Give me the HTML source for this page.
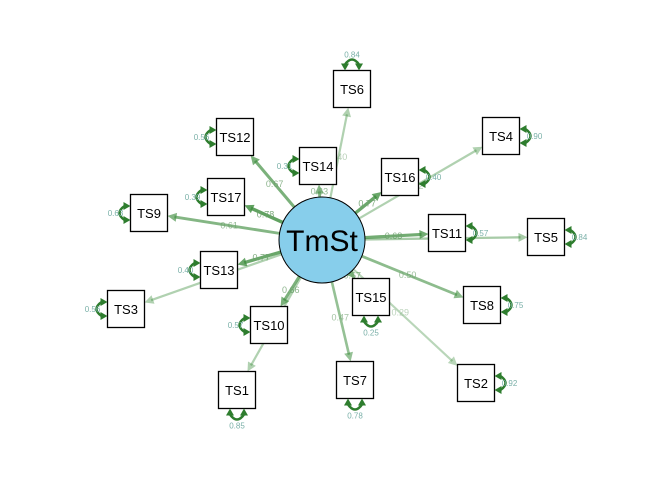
<!DOCTYPE html>
<html><head><meta charset="utf-8"><style>
html,body{margin:0;padding:0;background:#fff;}
svg{display:block;font-family:"Liberation Sans",Arial,sans-serif;}
</style></head><body>
<svg id="s" width="672" height="480" viewBox="0 0 672 480" xmlns="http://www.w3.org/2000/svg"></svg>
<script>
var S=document.getElementById('s'),NS='http://www.w3.org/2000/svg';
function el(t,a,txt){var e=document.createElementNS(NS,t);for(var k in a)e.setAttribute(k,a[k]);if(txt!=null)e.textContent=txt;S.appendChild(e);return e;}
var C={x:322,y:240,r:43};
var N=[
["TS6",352,89,"0.40","0.84","t",0.45],
["TS12",235,137,"0.67","0.56","l",0.75],
["TS14",318,166,"0.63","0.31","l",0.7],
["TS16",400,177,"0.77","0.40","r",0.85],
["TS4",501,136,"0.42","0.90","r",0.45],
["TS17",226,197,"0.78","0.39","l",0.9],
["TS9",149,213,"0.61","0.63","l",0.7],
["TS11",447,233,"0.68","0.57","r",0.8],
["TS5",546,237,"0.57","0.84","r",0.5],
["TS13",219,270,"0.77","0.40","l",0.85],
["TS15",371,297,"0.67","0.25","b",0.75],
["TS3",126,309,"0.40","0.56","l",0.45],
["TS8",482,305,"0.50","0.75","r",0.65],
["TS10",269,325,"0.66","0.57","l",0.75],
["TS7",355,380,"0.47","0.78","b",0.6],
["TS1",237,390,"0.37","0.85","b",0.45],
["TS2",476,383,"0.29","0.92","r",0.4]];
var h=18.5;
function boxHit(dx,dy){return Math.min(Math.abs(h/dx||1e9),Math.abs(h/dy||1e9));}
N.forEach(function(n){
 var dx=n[1]-C.x,dy=n[2]-C.y,L=Math.hypot(dx,dy),ux=dx/L,uy=dy/L;
 var sx=C.x+ux*C.r,sy=C.y+uy*C.r;
 var t=boxHit(ux,uy);var ex=n[1]-ux*t,ey=n[2]-uy*t;
 var op=n[6]*0.9,w=1+op*3,col='rgba(60,140,60,'+op+')';
 el('line',{x1:sx,y1:sy,x2:ex-ux*7,y2:ey-uy*7,stroke:col,'stroke-width':w});
 var px=-uy,py=ux;
 el('polygon',{points:ex+','+ey+' '+(ex-ux*9+px*4.5)+','+(ey-uy*9+py*4.5)+' '+(ex-ux*9-px*4.5)+','+(ey-uy*9-py*4.5),fill:col});
 var lx=sx+ux*(L-C.r-t)*0.45,ly=sy+uy*(L-C.r-t)*0.45;
 el('text',{x:lx,y:ly+3,'font-size':9,'text-anchor':'middle',fill:'rgba(110,160,110,'+(op+0.1)+')'},n[3]);
});
el('circle',{cx:C.x,cy:C.y,r:C.r,fill:'#87ceeb',stroke:'#000','stroke-width':1});
el('text',{x:C.x,y:C.y+11,'font-size':30,'text-anchor':'middle',fill:'#000'},'TmSt');
N.forEach(function(n){
 var x=n[1],y=n[2];
 el('rect',{x:x-h,y:y-h,width:2*h,height:2*h,fill:'#fff',stroke:'#000','stroke-width':1.3});
 el('text',{x:x,y:y+5,'font-size':13,'text-anchor':'middle',fill:'#000'},n[0]);
 var s=n[5],g='#2e7d2e',lab;
 function arr(ax,ay,dx,dy){var px=-dy,py=dx;el('polygon',{points:ax+','+ay+' '+(ax-dx*7+px*4)+','+(ay-dy*7+py*4)+' '+(ax-dx*7-px*4)+','+(ay-dy*7-py*4),fill:g});}
 if(s=='t'){var yy=y-h;el('path',{d:'M'+(x-7)+','+(yy-6)+' Q'+x+','+(yy-16)+' '+(x+7)+','+(yy-6),fill:'none',stroke:g,'stroke-width':2.5});arr(x-7,yy,0,1);arr(x+7,yy,0,1);lab=[x,yy-13];}
 if(s=='b'){var yy=y+h;el('path',{d:'M'+(x-7)+','+(yy+6)+' Q'+x+','+(yy+16)+' '+(x+7)+','+(yy+6),fill:'none',stroke:g,'stroke-width':2.5});arr(x-7,yy,0,-1);arr(x+7,yy,0,-1);lab=[x,yy+20];}
 if(s=='l'){var xx=x-h;el('path',{d:'M'+(xx-6)+','+(y-7)+' Q'+(xx-16)+','+y+' '+(xx-6)+','+(y+7),fill:'none',stroke:g,'stroke-width':2.5});arr(xx,y-7,1,0);arr(xx,y+7,1,0);lab=[xx-15,y+3];}
 if(s=='r'){var xx=x+h;el('path',{d:'M'+(xx+6)+','+(y-7)+' Q'+(xx+16)+','+y+' '+(xx+6)+','+(y+7),fill:'none',stroke:g,'stroke-width':2.5});arr(xx,y-7,-1,0);arr(xx,y+7,-1,0);lab=[xx+15,y+3];}
 el('text',{x:lab[0],y:lab[1],'font-size':8,'text-anchor':'middle',fill:'#7ab0a8'},n[4]);
});
</script>
</body></html>
